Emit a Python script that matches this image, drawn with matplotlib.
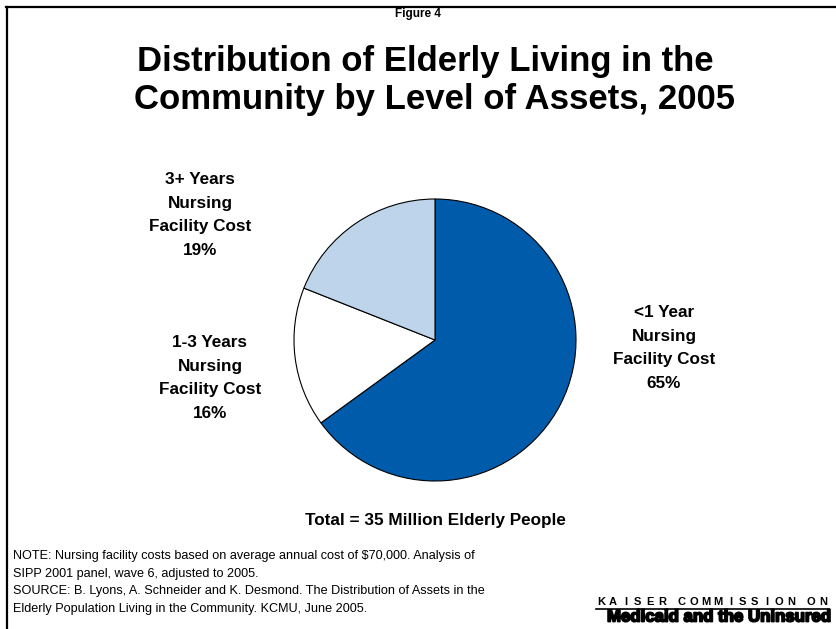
import matplotlib
matplotlib.use("Agg")
import matplotlib.pyplot as plt
import matplotlib.patheffects as pe
from matplotlib.lines import Line2D

plt.rcParams['font.family'] = ['Liberation Sans', 'DejaVu Sans']

# data
labels = ['<1 Year\nNursing\nFacility Cost', '1-3 Years\nNursing\nFacility Cost', '3+ Years\nNursing\nFacility Cost']
shares = [65, 16, 19]
colors = ['#005BAA', '#FFFFFF', '#BDD4EA']
label_px = [(664, 348), (210, 378), (200, 215)]  # label centres in pixels

W, H = 836, 629


def px(x, y):
    return x / W, 1 - y / H


fig = plt.figure(figsize=(W / 100, H / 100), dpi=100)

# frame (top and left edges only)
fig.add_artist(Line2D([6 / W, 1], [1 - 7 / H] * 2, color='black', lw=1.6, transform=fig.transFigure))
fig.add_artist(Line2D([7 / W] * 2, [1 - 7 / H, 0], color='black', lw=1.6, transform=fig.transFigure))

# pie, centre (435, 340), radius 141 px
cx, cy, r = 435, 340, 141
ax = fig.add_axes([(cx - r) / W, 1 - (cy + r) / H, 2 * r / W, 2 * r / H])
ax.pie(shares, colors=colors, startangle=90, counterclock=False,
       wedgeprops=dict(edgecolor='black', linewidth=0.8))
ax.set_xlim(-1, 1)
ax.set_ylim(-1, 1)
ax.set_aspect('equal')
ax.axis('off')

for lab, val, (x, y) in zip(labels, shares, label_px):
    fig.text(*px(x, y), f'{lab}\n{val}%', ha='center', va='center',
             fontsize=12.3, fontweight='bold', linespacing=1.72)

fig.text(*px(418, 14), 'Figure 4', ha='center', va='center', fontsize=8.5, fontweight='bold')
fig.text(*px(425, 61), 'Distribution of Elderly Living in the', ha='center', va='center',
         fontsize=25, fontweight='bold')
fig.text(*px(434, 100), 'Community by Level of Assets, 2005', ha='center', va='center',
         fontsize=25, fontweight='bold')

fig.text(*px(435, 521), 'Total = 35 Million Elderly People', ha='center', va='center',
         fontsize=12.3, fontweight='bold')

notes = ['NOTE: Nursing facility costs based on average annual cost of $70,000. Analysis of',
         'SIPP 2001 panel, wave 6, adjusted to 2005.',
         'SOURCE: B. Lyons, A. Schneider and K. Desmond. The Distribution of Assets in the',
         'Elderly Population Living in the Community. KCMU, June 2005.']
for i, t in enumerate(notes):
    fig.text(*px(13, 556 + i * 17.7), t, ha='left', va='center', fontsize=9.1)

# logo: tracked capitals between x=596 and x=829
words = ['KAISER', 'COMMISSION', 'ON']
step = 12.2
x = 601
for w in words:
    for ch in w:
        fig.text(*px(x, 602), ch, ha='center', va='center', fontsize=8, fontweight='bold')
        x += step
    x += step * 0.6
fig.add_artist(Line2D([596 / W, 829 / W], [1 - 608.5 / H] * 2, color='black', lw=1.2,
                      transform=fig.transFigure))
fig.text(*px(829, 617), 'Medicaid and the Uninsured', ha='right', va='center', fontsize=12.1,
         fontweight='bold', path_effects=[pe.withStroke(linewidth=1.3, foreground='black')])

fig.savefig('out.png', dpi=100)
